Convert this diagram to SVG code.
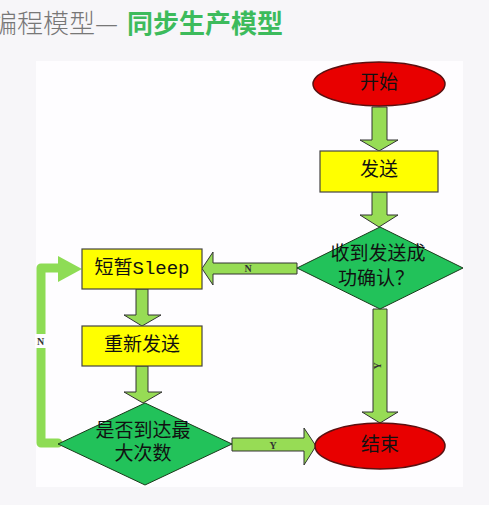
<svg xmlns="http://www.w3.org/2000/svg" width="489" height="505" viewBox="0 0 489 505">
<style>
.t{font-family:"Liberation Mono","Noto Sans CJK SC",monospace;font-size:19px;fill:#111;text-anchor:middle;dominant-baseline:central}
.lbl{font-family:"Liberation Serif",serif;font-size:10px;fill:#333;text-anchor:middle;dominant-baseline:central;font-weight:bold}
.arr{fill:#97dc55;stroke:#333;stroke-width:1;stroke-linejoin:miter}
.rect{fill:#ffff00;stroke:#444;stroke-width:1.2}
.ell{fill:#e80000;stroke:#5a1010;stroke-width:1.5}
.dia{fill:#22c25a;stroke:#1a3a1a;stroke-width:1}
</style>
<rect x="0" y="0" width="489" height="505" fill="#f7f6f9"/>
<rect x="36" y="61" width="427" height="426" fill="#fefdff"/>
<g id="title">
<text x="-9" y="33" font-family="Noto Sans CJK SC, sans-serif" font-size="26" fill="#777" font-weight="300">编程模型— </text>
<text x="127" y="33" font-family="Noto Sans CJK SC, sans-serif" font-size="26" fill="#3dbb5c" font-weight="bold">同步生产模型</text>
</g>
<g id="connectors">
<polygon class="arr" points="372,107 387,107 387,140 398,140 379,151 360,140 372,140"/>
<polygon class="arr" points="372,192 387,192 387,215 398,215 379,227 360,215 372,215"/>
<polygon class="arr" points="373,309 387,309 387,412 398,412 380,423 362,412 373,412"/>
<text class="lbl" transform="translate(377,366) rotate(-90)">Y</text>
<polygon class="arr" points="297,263 297,274 213,274 213,285 202,268.5 213,252 213,263"/>
<text class="lbl" x="248" y="268">N</text>
<polygon class="arr" points="136,289 148,289 148,315 161,315 142,326 124,315 136,315"/>
<polygon class="arr" points="136,366 148,366 148,392 162,392 143,403 124,392 136,392"/>
<polygon class="arr" points="232,438 304,438 304,428 316,446 304,465 304,451 232,451"/>
<text class="lbl" x="273" y="445">Y</text>
<path d="M58,443 H41 V268 H62" fill="none" stroke="#8edc55" stroke-width="9" stroke-linejoin="round" stroke-linecap="round"/>
<polygon points="58,256 82,269 58,282" fill="#8edc55"/>
<rect x="35" y="334" width="11" height="14" fill="#fefdff"/>
<text class="lbl" x="40.5" y="341">N</text>
</g>
<g id="start">
<ellipse class="ell" cx="379" cy="84" rx="66" ry="22"/>
<text class="t" x="379" y="84">开始</text>
</g>
<g id="send">
<rect class="rect" x="320" y="151" width="118" height="41"/>
<text class="t" x="379" y="171">发送</text>
</g>
<g id="confirm">
<polygon class="dia" points="380,227 463,268 380,309 297,268"/>
<text class="t" x="378" y="255">收到发送成</text>
<text class="t" x="376" y="280">功确认？</text>
</g>
<g id="end">
<ellipse class="ell" cx="380" cy="446" rx="65" ry="23"/>
<text class="t" x="380" y="446">结束</text>
</g>
<g id="sleep">
<rect class="rect" x="82" y="249" width="120" height="40"/>
<text class="t" x="142" y="269">短暂Sleep</text>
</g>
<g id="resend">
<rect class="rect" x="82" y="326" width="120" height="40"/>
<text class="t" x="142" y="346">重新发送</text>
</g>
<g id="maxretry">
<polygon class="dia" points="145,403 232,444 145,485 58,444"/>
<text class="t" x="143" y="432">是否到达最</text>
<text class="t" x="143" y="455">大次数</text>
</g>
</svg>
